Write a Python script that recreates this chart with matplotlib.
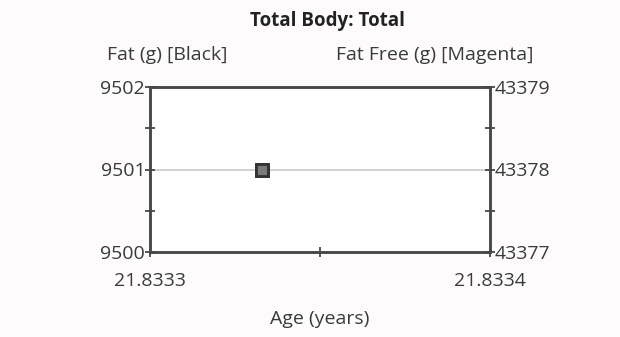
import matplotlib.pyplot as plt
from matplotlib.ticker import FixedLocator

plt.rcParams['font.family'] = ['Open Sans', 'DejaVu Sans']

# data
age = [21.833333]
fat = [9501]
fat_free = [43378]

x_ticks = [21.8333, 21.8334]
x_labels = ['21.8333', '21.8334']
left_ticks = [9500, 9501, 9502]
right_ticks = [43377, 43378, 43379]

fig = plt.figure(figsize=(6.2, 3.37), dpi=100)
fig.patch.set_facecolor('#fdfbfb')
ax = fig.add_axes([150/620, 1 - 252/337, 340/620, 165/337])
ax.set_facecolor('white')
ax2 = ax.twinx()

axc = '#474747'
fs = 14
for a in (ax, ax2):
    for s in a.spines.values():
        s.set_color(axc)
        s.set_linewidth(1.8)
    a.tick_params(colors=axc, labelcolor='#3a3a3a', labelsize=fs,
                  direction='inout', length=7, width=1.3)
    a.tick_params(which='minor', direction='inout', length=7, width=1.3, colors=axc)

ax.set_xlim(x_ticks[0], x_ticks[-1])
ax.set_xticks(x_ticks)
ax.set_xticklabels(x_labels)
ax.xaxis.set_minor_locator(FixedLocator([(x_ticks[0] + x_ticks[1]) / 2]))
ax.tick_params(axis='x', pad=11)

ax.set_ylim(left_ticks[0], left_ticks[-1])
ax.set_yticks(left_ticks)
ax.set_yticklabels([str(v) for v in left_ticks])
ax.yaxis.set_minor_locator(FixedLocator([9500.5, 9501.5]))
ax.tick_params(axis='y', pad=0)
ax.axhline(9501, color='#cfcfcf', lw=1.3, zorder=0)

ax2.set_ylim(right_ticks[0], right_ticks[-1])
ax2.set_yticks(right_ticks)
ax2.set_yticklabels([str(v) for v in right_ticks])
ax2.yaxis.set_minor_locator(FixedLocator([43377.5, 43378.5]))
ax2.tick_params(axis='y', pad=0)

ax2.plot(age, fat_free, 's', ms=8.5, mfc='#7a7a7a', mec='#333333', mew=2, clip_on=False, zorder=5)
ax.plot(age, fat, 's', ms=8.5, mfc='#7a7a7a', mec='#333333', mew=2, clip_on=False, zorder=5)

ax.set_xlabel('Age (years)', fontsize=fs, color='#3a3a3a', labelpad=14)

fig.text(327/620, 1 - 21/337, 'Total Body: Total', ha='center', va='center',
         fontsize=13.5, fontweight='bold', color='#222222')
fig.text(167/620, 1 - 55/337, 'Fat (g) [Black]', ha='center', va='center',
         fontsize=fs, color='#3a3a3a')
fig.text(435/620, 1 - 55/337, 'Fat Free (g) [Magenta]', ha='center', va='center',
         fontsize=fs, color='#3a3a3a')

fig.savefig('out.png', dpi=100, facecolor=fig.get_facecolor())
